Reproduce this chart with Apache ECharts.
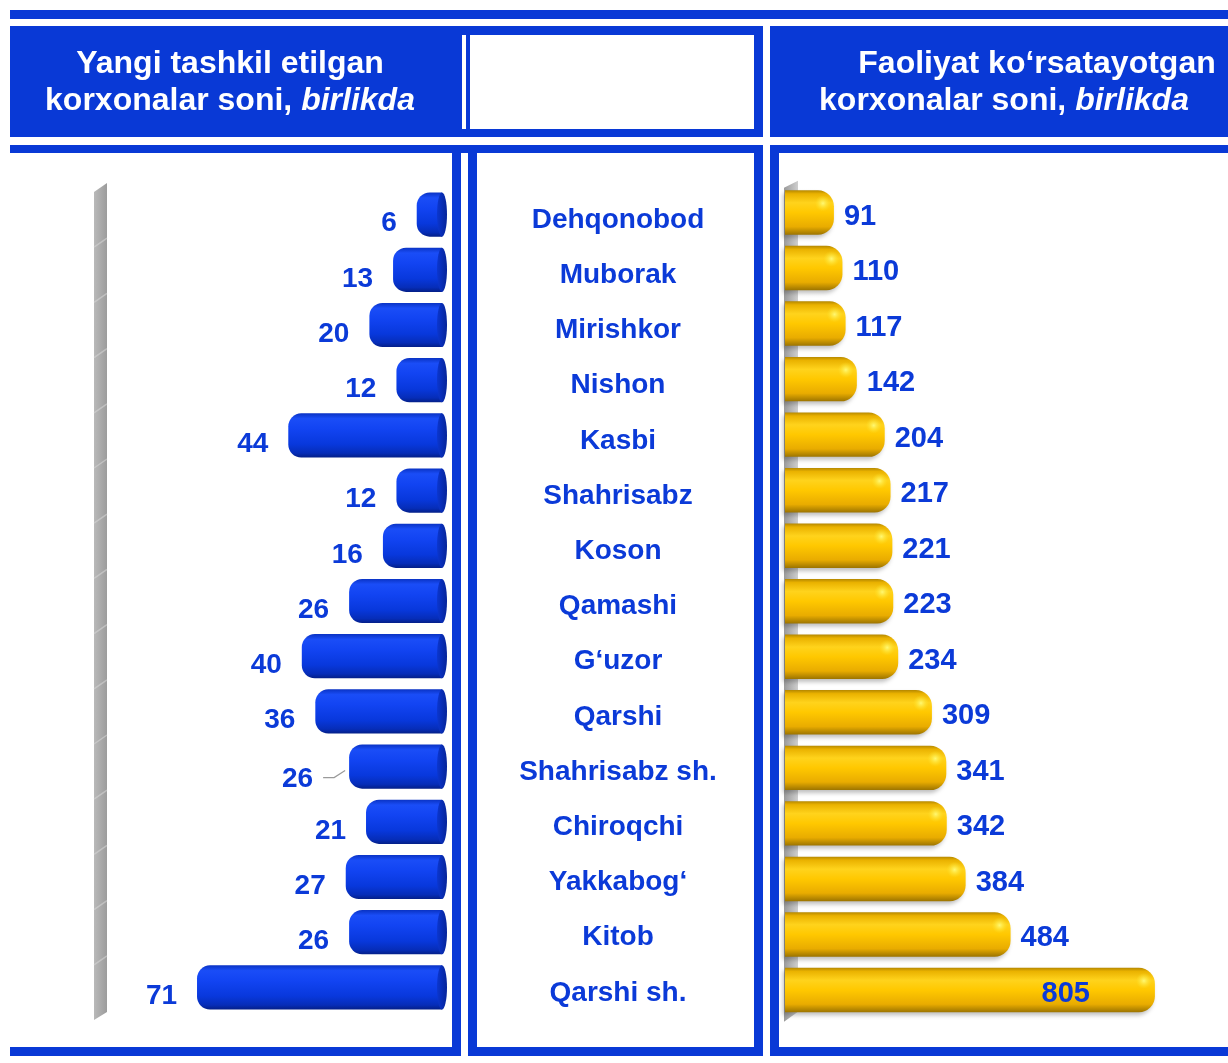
<!DOCTYPE html>
<html>
<head>
<meta charset="utf-8">
<script src="https://cdn.jsdelivr.net/npm/echarts@6.0.0/dist/echarts.min.js"></script>
<style>
  html, body { margin: 0; padding: 0; background: #ffffff; }
  #chart { width: 1228px; height: 1063px; }
</style>
</head>
<body>
<div id="chart"></div>
<script>
// Districts of Qashqadaryo region, top to bottom
const districts = ['Dehqonobod', 'Muborak', 'Mirishkor', 'Nishon', 'Kasbi', 'Shahrisabz', 'Koson',
  'Qamashi', 'G‘uzor', 'Qarshi', 'Shahrisabz sh.', 'Chiroqchi', 'Yakkabog‘', 'Kitob', 'Qarshi sh.'];
// Newly founded enterprises, units
const newEnterprises = [6, 13, 20, 12, 44, 12, 16, 26, 40, 36, 26, 21, 27, 26, 71];
// Operating enterprises, units
const activeEnterprises = [91, 110, 117, 142, 204, 217, 221, 223, 234, 309, 341, 342, 384, 484, 805];
// Panel headings
const leftTitle = ['Yangi tashkil etilgan', 'korxonalar soni, ', 'birlikda'];
const rightTitle = ['Faoliyat ko‘rsatayotgan', 'korxonalar soni, ', 'birlikda'];

const BLUE = '#0939d6';
const LABEL_BLUE = '#0b3ad8';
const FONT = '"Liberation Sans", Arial, Helvetica, sans-serif';

// labels moved aside with a short leader line: index -> [dx, dy]
const movedLabels = { 10: [-16, 4] };

const blueBody = { type: 'linear', x: 0, y: 0, x2: 0, y2: 1, colorStops: [
  { offset: 0, color: '#0a33c4' }, { offset: 0.12, color: '#1a4df7' }, { offset: 0.35, color: '#1244f2' },
  { offset: 0.7, color: '#0838dc' }, { offset: 0.9, color: '#062db8' }, { offset: 1, color: '#041f88' } ] };
const blueCap = { type: 'linear', x: 0, y: 0, x2: 1, y2: 0, colorStops: [
  { offset: 0, color: '#0b36cf' }, { offset: 1, color: '#05249a' } ] };
const goldBody = { type: 'linear', x: 0, y: 0, x2: 0, y2: 1, colorStops: [
  { offset: 0, color: '#b58800' }, { offset: 0.08, color: '#eab200' }, { offset: 0.28, color: '#ffd31c' },
  { offset: 0.5, color: '#ffc800' }, { offset: 0.82, color: '#e9ac00' }, { offset: 1, color: '#9c7400' } ] };

function renderNew(params, api) {
  const idx = api.value(1), v = api.value(0);
  const end = api.coord([v, idx]);
  const base = api.coord([0, idx]);
  const band = api.size([0, 1])[1];
  const h = band * 0.8, yc = end[1], top = yc - h / 2;
  const xl = end[0], xr = base[0] + 5;
  const shift = movedLabels[idx] || [0, 0];
  const lx = xl - 20 + shift[0], ly = yc + 9 + shift[1];
  const children = [
    { type: 'rect', shape: { x: xl, y: top, width: xr - xl, height: h, r: [13, 0, 0, 13] },
      style: { fill: blueBody } },
    { type: 'ellipse', shape: { cx: xr, cy: yc, rx: 5, ry: h / 2 }, style: { fill: blueCap } },
    { type: 'text', x: lx, y: ly, style: { text: String(v), fill: LABEL_BLUE,
      font: 'bold 28px ' + FONT, align: 'right', verticalAlign: 'middle' } }
  ];
  if (movedLabels[idx]) {
    children.push({ type: 'polyline', shape: { points: [[lx + 10, ly - 2], [lx + 21, ly - 2], [xl - 4, yc + 4]] },
      style: { stroke: '#9a9a9a', lineWidth: 1.2, fill: null } });
  }
  return { type: 'group', children };
}

function renderActive(params, api) {
  const idx = api.value(1), v = api.value(0);
  const end = api.coord([v, idx]);
  const base = api.coord([0, idx]);
  const band = api.size([0, 1])[1];
  const h = band * 0.8, yc = end[1], top = yc - h / 2;
  const xl = base[0] - 8, xr = end[0];
  const inside = v > 700;
  return { type: 'group', children: [
    { type: 'rect', shape: { x: xl, y: top, width: xr - xl, height: h, r: [0, 16, 16, 0] },
      style: { fill: goldBody, shadowBlur: 4, shadowOffsetX: -2, shadowOffsetY: 3, shadowColor: 'rgba(0,0,0,0.25)' } },
    { type: 'circle', shape: { cx: xr - 11, cy: top + 13, r: 8 },
      style: { fill: { type: 'radial', x: 0.5, y: 0.5, r: 0.5, colorStops: [
        { offset: 0, color: 'rgba(255,250,120,0.95)' }, { offset: 1, color: 'rgba(255,230,40,0)' } ] } } },
    { type: 'text', x: inside ? xr - 65 : xr + 10, y: yc + 4, style: { text: String(v), fill: LABEL_BLUE,
      font: 'bold 29px ' + FONT, align: inside ? 'right' : 'left', verticalAlign: 'middle' } }
  ] };
}

// Shaded side wall of each plot, drawn relative to its grid
function wall(offsets) {
  return function (params, api) {
    const c = params.coordSys;
    const b = c.y + c.height;
    const o = offsets;
    const x0 = c.x + o.x0, x1 = c.x + o.x1;
    const children = [{ type: 'polygon',
      shape: { points: [[x0, c.y + o.tl], [x1, c.y + o.tr], [x1, b + o.br], [x0, b + o.bl]] },
      style: { fill: { type: 'linear', x: 0, y: 0, x2: 1, y2: 0, colorStops: o.colors } } }];
    if (o.stripes) {
      const band = c.height / districts.length;
      for (let i = 1; i < districts.length; i++) {
        const y = c.y + band * i;
        children.push({ type: 'line', shape: { x1: x0, y1: y + 5, x2: x1, y2: y - 4 },
          style: { stroke: 'rgba(215,215,215,0.55)', lineWidth: 1.5 } });
      }
    }
    return { type: 'group', children };
  };
}

const newData = newEnterprises.map((v, i) => [v, i]);
const activeData = activeEnterprises.map((v, i) => [v, i]);

function headerText(x, y, txt) {
  return { type: 'text', x: x, y: y, style: { text: txt, fill: '#ffffff', font: 'bold 32px ' + FONT,
    align: 'center', verticalAlign: 'middle' } };
}
function headerRich(x, y, plain, italic) {
  return { type: 'text', x: x, y: y, style: {
    text: '{n|' + plain + '}{i|' + italic + '}', align: 'center', verticalAlign: 'middle',
    rich: {
      n: { fill: '#ffffff', fontSize: 32, fontWeight: 'bold', fontFamily: FONT },
      i: { fill: '#ffffff', fontSize: 32, fontWeight: 'bold', fontStyle: 'italic', fontFamily: FONT }
    } } };
}
function box(x, y, w, h, fill) {
  return { type: 'rect', silent: true, shape: { x: x, y: y, width: w, height: h }, style: { fill: fill || BLUE } };
}

const chart = echarts.init(document.getElementById('chart'), null, { renderer: 'canvas' });
chart.setOption({
  animation: false,
  backgroundColor: '#ffffff',
  grid: [
    { left: 99, right: 791, top: 187, bottom: 48, outerBoundsMode: 'none' },
    { left: 793, right: 30.4, top: 184.75, bottom: 45.25, outerBoundsMode: 'none' },
    // district names column, same banding as the left plot
    { left: 99, right: 791, top: 192.5, bottom: 42.5, outerBoundsMode: 'none' }
  ],
  xAxis: [
    { gridIndex: 0, type: 'value', min: 0, max: 100, inverse: true, show: false },
    { gridIndex: 1, type: 'value', min: 0, max: 900, show: false },
    { gridIndex: 2, type: 'value', min: 0, max: 100, inverse: true, show: false }
  ],
  yAxis: [
    { gridIndex: 0, type: 'category', data: districts, inverse: true, show: false },
    { gridIndex: 1, type: 'category', data: districts, inverse: true, show: false },
    { gridIndex: 2, type: 'category', data: districts, inverse: true, position: 'right',
      axisLine: { show: false }, axisTick: { show: false }, splitLine: { show: false },
      axisLabel: { margin: 181, align: 'center', color: LABEL_BLUE, fontSize: 28, fontWeight: 'bold',
        fontFamily: FONT, hideOverlap: false, interval: 0 } }
  ],
  series: [
    { type: 'custom', xAxisIndex: 0, yAxisIndex: 0, data: [[0, 0]], z: 1, silent: true,
      renderItem: wall({ x0: -5, x1: 8, tl: 5, tr: -4, br: -3, bl: 5, stripes: true,
        colors: [{ offset: 0, color: '#b9b9b9' }, { offset: 1, color: '#9c9c9c' }] }) },
    { type: 'custom', xAxisIndex: 1, yAxisIndex: 1, data: [[0, 0]], z: 1, silent: true,
      renderItem: wall({ x0: -9, x1: 5, tl: 3, tr: -4, br: -6, bl: 4, stripes: false,
        colors: [{ offset: 0, color: '#9a9a9a' }, { offset: 1, color: '#cfcfcf' }] }) },
    { type: 'custom', name: 'Yangi', xAxisIndex: 0, yAxisIndex: 0, data: newData, z: 2,
      encode: { x: 0, y: 1 }, renderItem: renderNew },
    { type: 'custom', name: 'Faoliyat', xAxisIndex: 1, yAxisIndex: 1, data: activeData, z: 2,
      encode: { x: 0, y: 1 }, renderItem: renderActive }
  ],
  graphic: [
    box(10, 10, 1218, 9),
    // header row
    box(10, 26, 452, 111),
    box(460, 26, 303, 111),
    box(462, 35, 4, 94, '#ffffff'),
    box(470, 35, 284, 94, '#ffffff'),
    box(770, 26, 458, 111),
    headerText(230, 64, leftTitle[0]),
    headerRich(230, 101, leftTitle[1], leftTitle[2]),
    headerText(1037, 64, rightTitle[0]),
    headerRich(1004, 101, rightTitle[1], rightTitle[2]),
    // panel frames
    box(10, 145, 753, 8),
    box(452, 145, 9, 911),
    box(10, 1047, 451, 9),
    box(468, 145, 9, 911),
    box(754, 145, 9, 911),
    box(468, 1047, 295, 9),
    box(770, 145, 458, 8),
    box(770, 145, 9, 911),
    box(770, 1047, 458, 9)
  ]
});
</script>
</body>
</html>
